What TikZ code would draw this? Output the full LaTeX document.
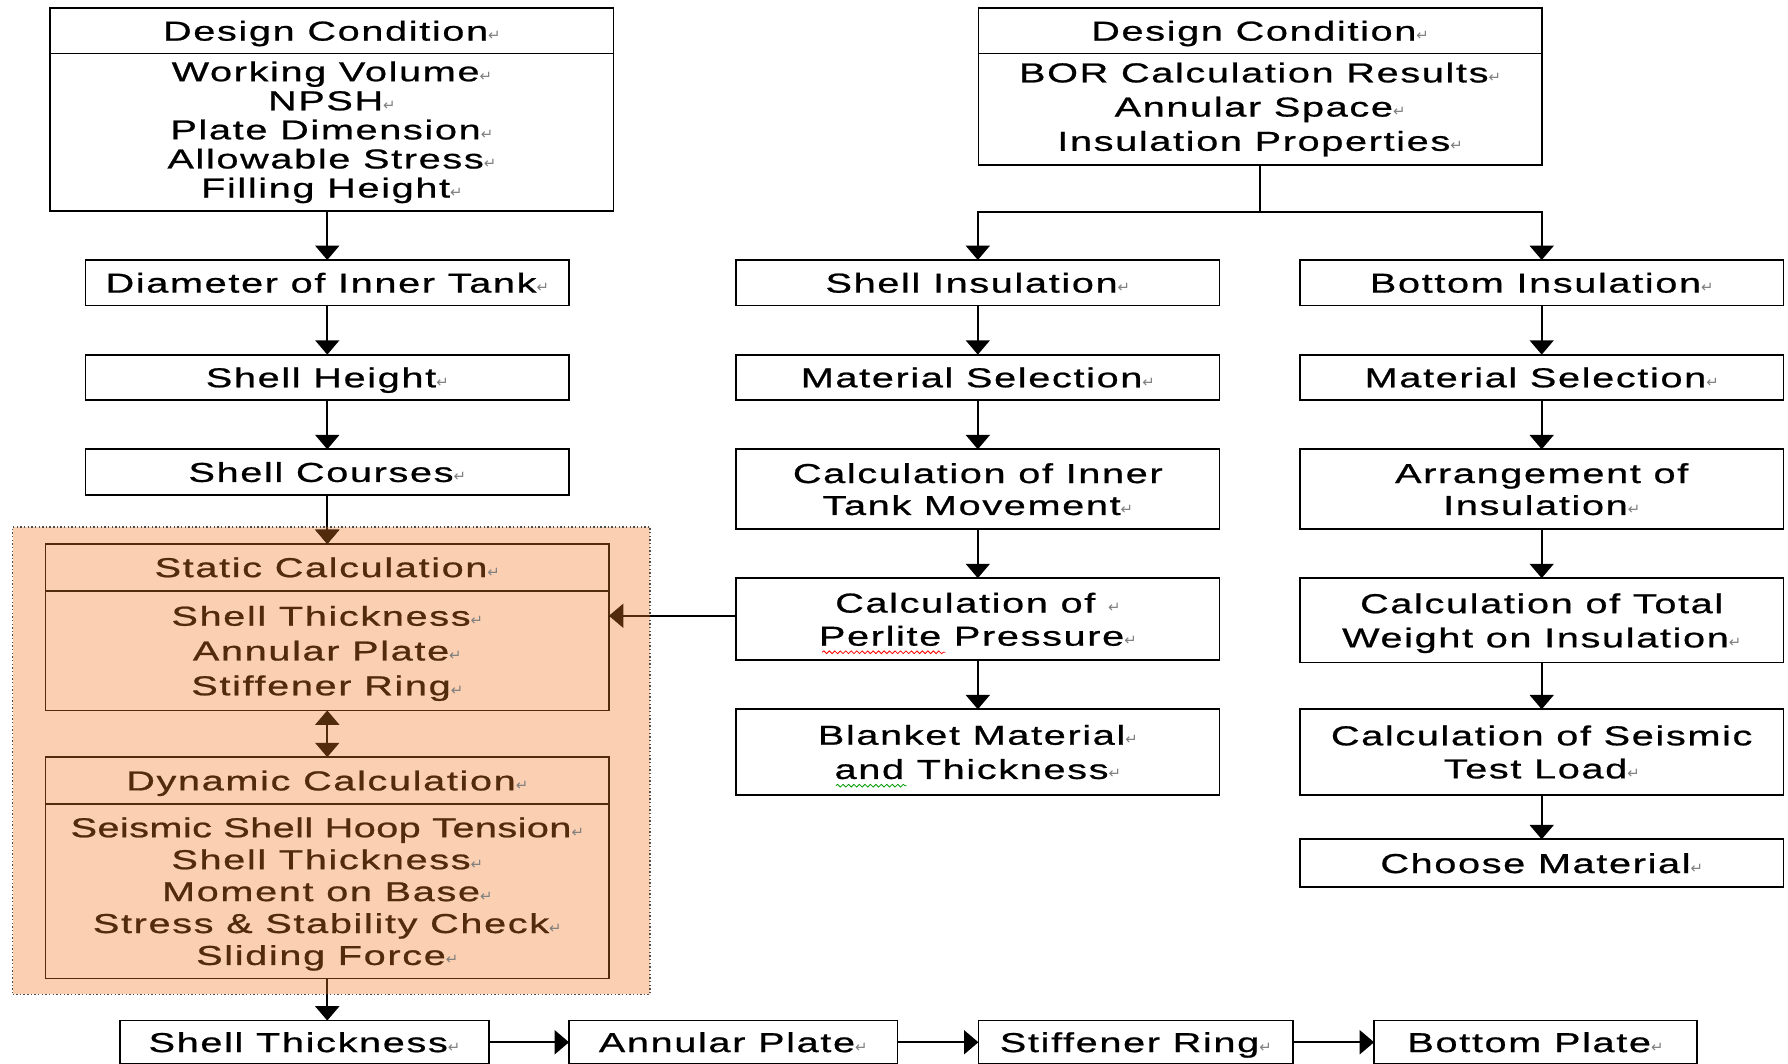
\documentclass[tikz,border=0pt]{standalone}
\usepackage{fontspec}
\setmainfont{Liberation Sans}[FakeStretch=1.45,LetterSpace=6,FakeBold=0.8]
\newfontfamily\pmfont{DejaVu Sans}
\usetikzlibrary{arrows.meta,decorations.pathmorphing}
\definecolor{peach}{RGB}{251,207,177}
\definecolor{dbrown}{RGB}{82,42,12}
\newcommand\pmarkx{{\pmfont\fontsize{6.5}{6.5}\selectfont\textcolor{gray}{↵}}}
\begin{document}
\begin{tikzpicture}[x=0.5pt,y=-0.5pt,
  box/.style={draw, line width=0.75pt, inner sep=0pt, outer sep=0pt, align=center,
    font=\fontsize{12}{14.5}\selectfont},
  one/.style={text height=10.6pt, text depth=2pt},
  colw/.style={minimum width=212pt},
  wide/.style={minimum width=247pt},
  h20/.style={minimum height=20pt},
  h35/.style={minimum height=35pt},
  bbox/.style={box, draw=dbrown, text=dbrown},
  arr/.style={-{Triangle[width=10.5pt,length=6.3pt]}, line width=0.9pt},
  ln/.style={line width=0.9pt},
  region/.style={fill=peach, draw=black!70, densely dotted, line width=0.6pt, inner sep=0pt, outer sep=0pt}
]
\useasboundingbox (0,0) rectangle (1568,933);

% ---------- left column ----------
\node[box, one, wide, h20] (dc1h) at (291,27) {Design Condition\pmarkx};
\node[box, wide, minimum height=69pt, font=\fontsize{12}{12.75}\selectfont] (dc1b) at (291,116)
  {Working Volume\pmarkx\\NPSH\pmarkx\\Plate Dimension\pmarkx\\Allowable Stress\pmarkx\\Filling Height\pmarkx};
\node[box, one, colw, h20] (diam) at (287,248) {Diameter of Inner Tank\pmarkx};
\node[box, one, colw, h20] (sheight) at (287,331) {Shell Height\pmarkx};
\node[box, one, colw, h20] (scourse) at (287,414) {Shell Courses\pmarkx};

\node[region, minimum width=279.5pt, minimum height=205pt] (reg) at (290.5,667) {};

\node[bbox, one, wide, minimum height=20.5pt] (stath) at (287,497.5) {Static Calculation\pmarkx};
\node[bbox, wide, minimum height=52.5pt, text depth=0pt, font=\fontsize{12}{15.25}\selectfont] (statb) at (287,570.5)
  {Shell Thickness\pmarkx\\Annular Plate\pmarkx\\Stiffener Ring\pmarkx};
\node[bbox, one, wide, minimum height=20.5pt] (dynh) at (287,684.5) {Dynamic Calculation\pmarkx};
\node[bbox, wide, minimum height=76.5pt, text depth=0pt, font=\fontsize{12}{14}\selectfont] (dynb) at (287,781.5)
  {{\addfontfeatures{LetterSpace=1.5}Seismic Shell Hoop Tension}\pmarkx\\Shell Thickness\pmarkx\\Moment on Base\pmarkx\\Stress \& Stability Check\pmarkx\\Sliding Force\pmarkx};

% ---------- bottom row ----------
\node[box, one, minimum width=162pt, minimum height=19pt] (sthick) at (267,914) {Shell Thickness\pmarkx};
\node[box, one, minimum width=144pt, minimum height=19pt] (aplate) at (643,914) {Annular Plate\pmarkx};
\node[box, one, minimum width=138pt, minimum height=19pt] (sring) at (996,914) {Stiffener Ring\pmarkx};
\node[box, one, minimum width=141.5pt, minimum height=19pt] (bplate) at (1346.5,914) {Bottom Plate\pmarkx};

% ---------- middle / right top ----------
\node[box, one, wide, h20] (dc2h) at (1105,27) {Design Condition\pmarkx};
\node[box, wide, minimum height=49pt, font=\fontsize{12}{15}\selectfont] (dc2b) at (1105,96)
  {BOR Calculation Results\pmarkx\\Annular Space\pmarkx\\Insulation Properties\pmarkx};

% middle column
\node[box, one, colw, h20] (shins) at (857.5,248) {Shell Insulation\pmarkx};
\node[box, one, colw, h20] (msel1) at (857.5,331) {Material Selection\pmarkx};
\node[box, colw, h35, font=\fontsize{12}{14}\selectfont] (itm) at (857.5,429) {Calculation of Inner\\Tank Movement\pmarkx};
\node[box, colw, minimum height=36pt, text depth=0pt, font=\fontsize{12}{14.5}\selectfont] (perl) at (857.5,543) {Calculation of \pmarkx\\Perlite Pressure\pmarkx};
\node[box, colw, minimum height=37.5pt, font=\fontsize{12}{15}\selectfont] (blank) at (857.5,659.5) {Blanket Material\pmarkx\\and Thickness\pmarkx};

% right column
\node[box, one, colw, h20] (bins) at (1352,248) {Bottom Insulation\pmarkx};
\node[box, one, colw, h20] (msel2) at (1352,331) {Material Selection\pmarkx};
\node[box, colw, h35, font=\fontsize{12}{14}\selectfont] (arrg) at (1352,429) {Arrangement of\\Insulation\pmarkx};
\node[box, colw, minimum height=37pt, text depth=0pt, font=\fontsize{12}{15}\selectfont] (tw) at (1352,544) {Calculation of Total\\Weight on Insulation\pmarkx};
\node[box, colw, minimum height=37.5pt, font=\fontsize{12}{14.5}\selectfont] (seis) at (1352,659.5) {Calculation of Seismic\\Test Load\pmarkx};
\node[box, one, colw, minimum height=21pt] (choose) at (1352,757) {Choose Material\pmarkx};

% ---------- connectors ----------
\draw[arr] (diam.north |- dc1b.south) -- (diam.north);
\draw[arr] (diam.south) -- (sheight.north);
\draw[arr] (sheight.south) -- (scourse.north);
\draw[arr] (scourse.south) -- (stath.north);
\draw[arr, dbrown] (scourse.south |- reg.north) -- (stath.north);
\draw[{Triangle[width=10.5pt,length=6.3pt]}-{Triangle[width=10.5pt,length=6.3pt]}, line width=0.9pt, dbrown] (statb.south) -- (dynh.north);
\draw[arr] (dynb.south) -- (dynb.south |- sthick.north);
\draw[ln, dbrown] (dynb.south) -- (dynb.south |- reg.south);

\draw[arr] (sthick.east) -- (aplate.west);
\draw[arr] (aplate.east) -- (sring.west);
\draw[arr] (sring.east) -- (bplate.west);

\coordinate (split) at (1105,186);
\draw[ln] (dc2b.south) -- (split);
\draw[arr] (split) -| (shins.north);
\draw[arr] (split) -| (bins.north);

\draw[arr] (shins.south) -- (msel1.north);
\draw[arr] (msel1.south) -- (itm.north);
\draw[arr] (itm.south) -- (perl.north);
\draw[arr] (perl.south) -- (blank.north);

\draw[arr] (bins.south) -- (msel2.north);
\draw[arr] (msel2.south) -- (arrg.north);
\draw[arr] (arrg.south) -- (tw.north);
\draw[arr] (tw.south) -- (seis.north);
\draw[arr] (seis.south) -- (choose.north);

\coordinate (pin) at ([yshift=1.5pt]perl.west);
\draw[line width=0.75pt] (pin) -- (pin -| statb.east);
\draw[arr, line width=0.75pt, dbrown] (pin -| reg.east) -- (pin -| statb.east);

% spell-check underlines
\draw[red, line width=0.35pt, decorate, decoration={snake, amplitude=0.6pt, segment length=2.4pt}] (721,572) -- (829,572);
\draw[green!60!black, line width=0.35pt, decorate, decoration={snake, amplitude=0.6pt, segment length=2.4pt}] (733,689) -- (795,689);
\end{tikzpicture}
\end{document}
